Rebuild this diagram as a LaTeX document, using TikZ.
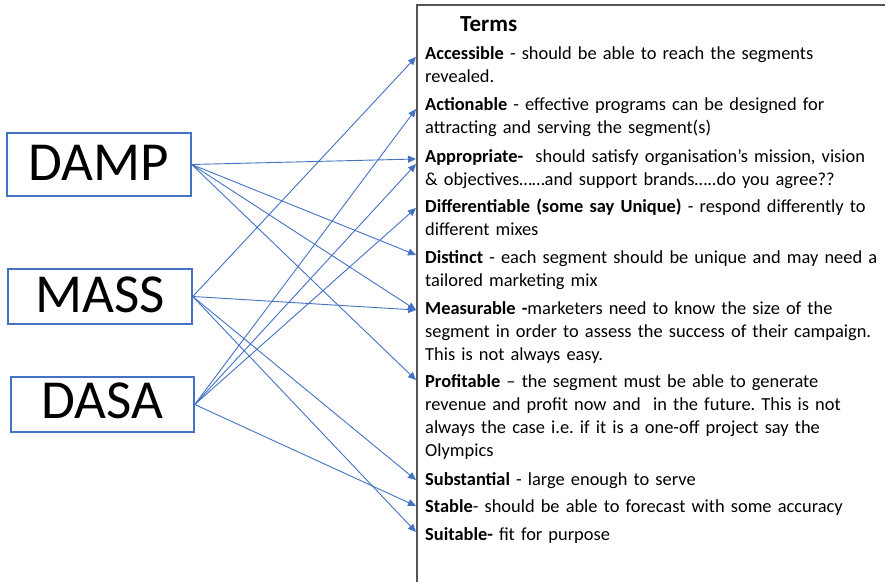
\documentclass[tikz,border=0pt]{standalone}
\usepackage{fontspec}
\setmainfont{Carlito}
\usetikzlibrary{arrows.meta}
\definecolor{oblue}{RGB}{68,114,196}
\definecolor{framegray}{RGB}{85,85,85}
\frenchspacing
\begin{document}
\begin{tikzpicture}[x=1pt,y=-1pt,
  termtext/.style={anchor=base west, inner sep=0pt, text width=470pt, align=left,
    font=\fontsize{18.4}{23}\selectfont},
  acron/.style={draw=oblue, line width=1.5pt, inner sep=0pt,
    font=\fontsize{55}{60}\selectfont},
  link/.style={draw=oblue, line width=0.9pt, -{Triangle[length=8pt,width=7pt]}}]
\useasboundingbox (0,0) rectangle (890,581);
\fill[white] (0,0) rectangle (890,581);

% Terms frame
\draw[framegray, line width=1.5pt] (885,5) -- (417,5) -- (417,583);
\node[anchor=base west, inner sep=0pt, font=\bfseries\fontsize{23}{26}\selectfont] (terms) at (460,31) {Terms};

% term paragraphs
\node[termtext] (acc) at (425,59) {\textbf{Accessible} - should be able to reach the segments\\revealed.};
\node[termtext] (act) at (425,110) {\textbf{Actionable} - effective programs can be designed for\\attracting and serving the segment(s)};
\node[termtext] (app) at (425,162) {\textbf{Appropriate-}\ \ should satisfy organisation’s mission, vision\\\& objectives……and support brands…..do you agree??};
\node[termtext] (dif) at (425,212) {\textbf{Differentiable (some say Unique)} - respond differently to\\different mixes};
\node[termtext] (dis) at (425,263) {\textbf{Distinct} - each segment should be unique and may need a\\tailored marketing mix};
\node[termtext] (mea) at (425,314) {\textbf{Measurable -}marketers need to know the size of the\\segment in order to assess the success of their campaign.\\This is not always easy.};
\node[termtext] (pro) at (425,387) {\textbf{Profitable} – the segment must be able to generate\\revenue and profit now and\ \ in the future. This is not\\always the case i.e. if it is a one-off project say the\\Olympics};
\node[termtext] (sub) at (425,485) {\textbf{Substantial} - large enough to serve};
\node[termtext] (sta) at (425,512) {\textbf{Stable}- should be able to forecast with some accuracy};
\node[termtext] (sui) at (425,540) {\textbf{Suitable-} fit for purpose};

% acronym boxes
\node[acron, minimum width=184pt, minimum height=63pt, text depth=4pt] (damp) at (99,164.5) {DAMP};
\node[acron, minimum width=184pt, minimum height=55pt, text depth=3.5pt] (mass) at (100,296.5) {MASS};
\node[acron, minimum width=183pt, minimum height=55pt, text depth=8pt] (dasa) at (102.5,404.5) {DASA};

% arrow tips
\coordinate (tAcc) at (416,57);
\coordinate (tAct) at (416,109);
\coordinate (tApA) at (416,159);
\coordinate (tApB) at (416,164);
\coordinate (tDif) at (416,208);
\coordinate (tDis) at (416,255);
\coordinate (tMea) at (416,310);
\coordinate (tPro) at (416,380);
\coordinate (tSub) at (416,480);
\coordinate (tSta) at (416,506);
\coordinate (tSui) at (416,532);

% DAMP links
\draw[link] (damp.east) -- (tApA);
\draw[link] (damp.east) -- (tDis);
\draw[link] (damp.east) -- (tMea);
\draw[link] (damp.east) -- (tPro);
% MASS links
\draw[link] (mass.east) -- (tAcc);
\draw[link] (mass.east) -- (tMea);
\draw[link] (mass.east) -- (tSub);
\draw[link] (mass.east) -- (tSui);
% DASA links
\draw[link] (dasa.east) -- (tAct);
\draw[link] (dasa.east) -- (tApB);
\draw[link] (dasa.east) -- (tDif);
\draw[link] (dasa.east) -- (tSta);
\end{tikzpicture}
\end{document}
